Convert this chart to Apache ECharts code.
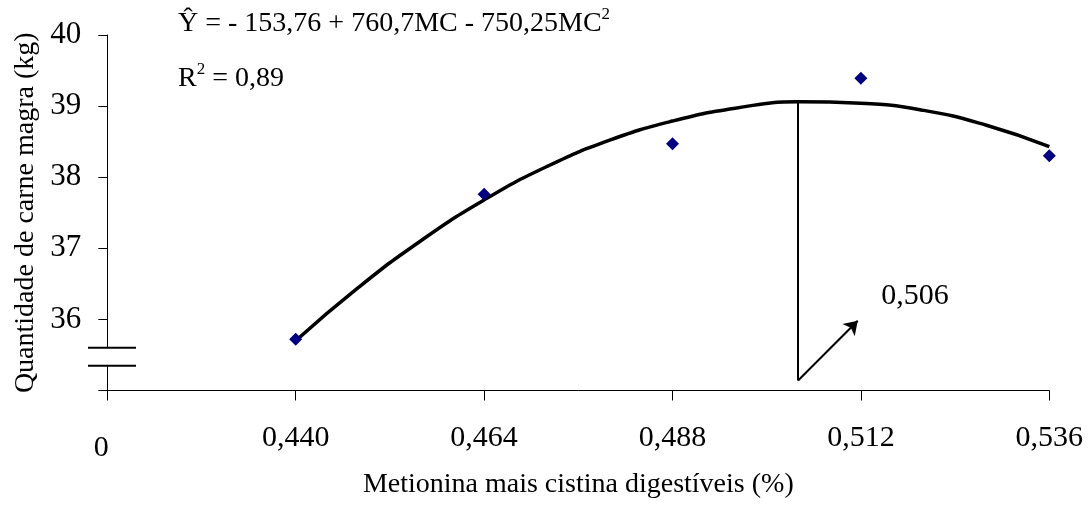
<!DOCTYPE html>
<html><head><meta charset="utf-8">
<script src="https://cdn.jsdelivr.net/npm/echarts@6/dist/echarts.min.js"></script>
<style>html,body{margin:0;padding:0;background:#fff}#c{width:1089px;height:508px}</style>
</head><body><div id="c"></div>
<script>
// ---- data ----
const xTickValues = [0.416, 0.440, 0.464, 0.488, 0.512, 0.536];
const xTickLabels = ['0', '0,440', '0,464', '0,488', '0,512', '0,536'];
const levels = [0.440, 0.464, 0.488, 0.512, 0.536];
const observed = [35.72, 37.76, 38.47, 39.39, 38.30];
const curveX = [0.440, 0.448, 0.456, 0.464, 0.472, 0.480, 0.488, 0.496, 0.504, 0.512, 0.520, 0.528, 0.536];
const curveY = [35.70, 36.45, 37.11, 37.68, 38.15, 38.52, 38.79, 38.97, 39.06, 39.04, 38.94, 38.73, 38.43];
const optX = 0.504, optTop = 39.06, optBottom = 35.14;
const arrowEnd = [0.5116, 35.98];
const optLabelPos = [0.5189, 36.33];
const optLabel = '0,506';
const equationText = 'Ŷ = - 153,76 + 760,7MC - 750,25MC';
const r2Text = '= 0,89';

const F = "'Liberation Serif','Times New Roman',serif";
const chart = echarts.init(document.getElementById('c'), null, {renderer: 'canvas'});

function xLabel(v) {
  let best = 0;
  for (let i = 0; i < xTickValues.length; i++) {
    if (Math.abs(xTickValues[i] - v) < Math.abs(xTickValues[best] - v)) best = i;
  }
  return best === 0 ? '{z|' + xTickLabels[0] + '}' : xTickLabels[best];
}

chart.setOption({
  animation: false,
  backgroundColor: '#fff',
  grid: {left: 107.3, right: 39.7, top: 35, bottom: 117.5, containLabel: false, outerBoundsMode: 'none'},
  xAxis: {
    type: 'value', min: 0.416, max: 0.536,
    name: 'Metionina mais cistina digestíveis (%)', nameLocation: 'middle', nameGap: 80,
    nameTextStyle: {fontFamily: F, fontSize: 28, color: '#000'},
    axisLine: {onZero: false, lineStyle: {color: '#000', width: 1}},
    axisTick: {show: true, length: 10, customValues: xTickValues, lineStyle: {color: '#000', width: 1}},
    axisLabel: {customValues: xTickValues, formatter: xLabel, fontFamily: F, fontSize: 30, color: '#000', margin: 33,
      rich: {z: {fontFamily: F, fontSize: 30, color: '#000', padding: [10, 12, 0, 0]}}},
    splitLine: {show: false}
  },
  yAxis: {
    type: 'value', min: 35, max: 40, interval: 1,
    name: 'Quantidade de carne magra (kg)', nameLocation: 'middle', nameGap: 68, nameRotate: 90,
    nameTextStyle: {fontFamily: F, fontSize: 28, color: '#000'},
    axisLine: {show: true, lineStyle: {color: '#000', width: 1}},
    axisTick: {show: true, length: 9, lineStyle: {color: '#000', width: 1}},
    axisLabel: {formatter: v => (v === 35 ? '' : String(v)), fontFamily: F, fontSize: 31, color: '#000', margin: 26},
    splitLine: {show: false}
  },
  series: [
    {
      type: 'line', name: 'fit', data: curveX.map((x, i) => [x, curveY[i]]),
      smooth: true, showSymbol: false, symbol: 'none',
      lineStyle: {color: '#000', width: 3.5}, z: 2,
      markLine: {
        silent: true, animation: false,
        lineStyle: {color: '#000', width: 2, type: 'solid'},
        label: {show: false},
        symbolSize: 13,
        data: [
          [{coord: [optX, optTop], symbol: 'none'}, {coord: [optX, optBottom], symbol: 'none'}],
          [{coord: [optX, optBottom], symbol: 'none'}, {coord: arrowEnd, symbol: 'arrow'}]
        ]
      }
    },
    {
      type: 'scatter', name: 'obs', data: levels.map((x, i) => [x, observed[i]]),
      symbol: 'diamond', symbolSize: 13, itemStyle: {color: '#000080', opacity: 1}, z: 3
    },
    {
      type: 'scatter', name: 'opt', data: [optLabelPos], symbolSize: 0, silent: true,
      itemStyle: {opacity: 1},
      label: {show: true, position: 'inside', formatter: optLabel, fontFamily: F, fontSize: 30, color: '#000', opacity: 1}
    }
  ],
  graphic: [
    {type: 'rect', shape: {x: 88, y: 348, width: 48, height: 17}, style: {fill: '#fff'}, z: 100},
    {type: 'line', shape: {x1: 88, y1: 347.7, x2: 136, y2: 347.7}, style: {stroke: '#000', lineWidth: 2}, z: 101},
    {type: 'line', shape: {x1: 88, y1: 365.7, x2: 136, y2: 365.7}, style: {stroke: '#000', lineWidth: 2}, z: 101},
    {type: 'text', x: 178, y: 6, z: 100, style: {
      text: '{m|' + equationText + '}{s|2}',
      rich: {m: {fontFamily: F, fontSize: 28, color: '#000', lineHeight: 32, verticalAlign: 'bottom'},
             s: {fontFamily: F, fontSize: 17, color: '#000', lineHeight: 32, verticalAlign: 'top'}}
    }},
    {type: 'text', x: 178, y: 61, z: 100, style: {
      text: '{m|R}{s|2}{m| ' + r2Text + '}',
      rich: {m: {fontFamily: F, fontSize: 28, color: '#000', lineHeight: 32, verticalAlign: 'bottom'},
             s: {fontFamily: F, fontSize: 17, color: '#000', lineHeight: 32, verticalAlign: 'top'}}
    }}
  ]
});
</script></body></html>
